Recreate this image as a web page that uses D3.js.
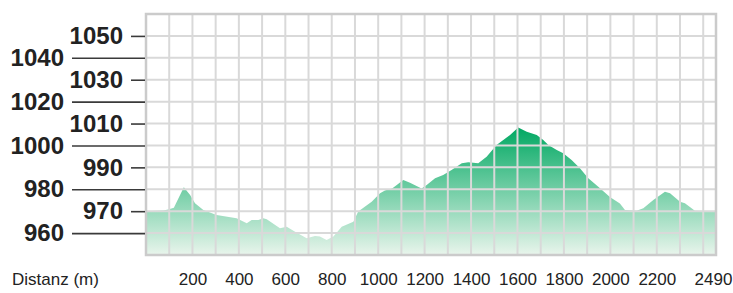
<!DOCTYPE html>
<html>
<head>
<meta charset="utf-8">
<script src="https://cdn.jsdelivr.net/npm/d3@7"></script>
<style>
  body { margin: 0; background: #fff; }
  text { font-family: "Liberation Sans", Arial, sans-serif; }
</style>
</head>
<body>
<svg id="chart"></svg>
<script>
const width = 733;
const height = 293;

// distance along the track (m) and elevation (m)
const distances = [0, 75, 95, 120, 163, 190, 211, 247, 304, 390, 434, 455, 484, 505, 520,
    577, 606, 642, 692, 728, 749, 778, 807, 843, 893, 914, 972, 1008, 1029, 1060,
    1080, 1108, 1137, 1187, 1209, 1245, 1280, 1316, 1360, 1388, 1431, 1467, 1510, 1568, 1603,
    1640, 1683, 1711, 1733, 1769, 1797, 1833, 1869, 1905, 1948, 1998, 2041, 2063, 2113,
    2142, 2185, 2235, 2257, 2300, 2321, 2350, 2364, 2455];
const elevations = [970, 970.3, 970.8, 971.6, 980.9, 977.4, 973.6, 970.5, 968.3, 966.8, 964.5, 966, 966, 966.8, 966.3,
    962.2, 962.9, 960.6, 957.6, 958.7, 958.4, 956.8, 958.4, 962.9, 965.2, 969.8, 974.3, 978.2, 979.4, 980.4,
    982, 984.2, 983, 980.4, 982, 985, 986.5, 988.8, 991.9, 992.3, 991.9, 994.9, 1000.2, 1004.8, 1008.2,
    1006.3, 1004.8, 1002.5, 1000.2, 997.9, 996.4, 993.4, 989.6, 985, 981.2, 976.5, 973.5, 970.5, 970.2,
    971.3, 975.1, 978.9, 978.2, 974.3, 973.6, 971.3, 970.2, 970];

const xTicks = [200, 400, 600, 800, 1000, 1200, 1400, 1600, 1800, 2000, 2200];
const totalLabel = "2490";
const yTicksShort = [970, 990, 1010, 1030, 1050];
const yTicksLong = [960, 980, 1000, 1020, 1040];

const plotLeft = 146, plotRight = 716, plotTop = 14, plotBottom = 255;

const x = d3.scaleLinear().domain([0, 2455]).range([plotLeft, plotRight]);
const y = d3.scaleLinear().domain([950, 1060]).range([plotBottom, plotTop]);

const svg = d3.select("#chart")
    .attr("width", width)
    .attr("height", height);

const defs = svg.append("defs");
const grad = defs.append("linearGradient")
    .attr("id", "fillGrad")
    .attr("gradientUnits", "userSpaceOnUse")
    .attr("x1", 0).attr("x2", 0)
    .attr("y1", y(d3.max(elevations)))
    .attr("y2", plotBottom);
grad.append("stop").attr("offset", 0).attr("stop-color", "#00a862");
grad.append("stop").attr("offset", 1).attr("stop-color", "#e9f5ec");

const points = distances.map((d, i) => [d, elevations[i]]);

const area = d3.area()
    .x(d => x(d[0]))
    .y0(plotBottom)
    .y1(d => y(d[1]));

svg.append("path")
    .datum(points)
    .attr("fill", "url(#fillGrad)")
    .attr("d", area);

// grid over the profile
const grid = svg.append("g")
    .attr("stroke", "#d9d9d9")
    .attr("stroke-width", 2);

grid.selectAll("line.v")
    .data(d3.range(100, 2455, 100))
    .enter()
    .append("line")
    .attr("x1", d => x(d))
    .attr("x2", d => x(d))
    .attr("y1", plotTop)
    .attr("y2", plotBottom);

grid.selectAll("line.h")
    .data(d3.range(960, 1060, 10))
    .enter()
    .append("line")
    .attr("x1", plotLeft)
    .attr("x2", plotRight)
    .attr("y1", d => y(d))
    .attr("y2", d => y(d));

svg.append("rect")
    .attr("x", plotLeft)
    .attr("y", plotTop)
    .attr("width", plotRight - plotLeft)
    .attr("height", plotBottom - plotTop)
    .attr("fill", "none")
    .attr("stroke", "#cbcbcb")
    .attr("stroke-width", 2.5);

// two staggered elevation axes
function styleAxis(g) {
    g.select(".domain").remove();
    g.selectAll(".tick line")
        .attr("stroke", "#3a3a3a")
        .attr("stroke-width", 1.6);
    g.selectAll(".tick text")
        .attr("fill", "#222")
        .attr("font-size", "24px")
        .attr("font-weight", "bold");
}

svg.append("g")
    .attr("transform", `translate(${plotLeft - 1},0)`)
    .call(d3.axisLeft(y).tickValues(yTicksLong).tickFormat(d3.format("d")).tickSize(73).tickPadding(8))
    .call(styleAxis);

svg.append("g")
    .attr("transform", `translate(${plotLeft - 1},0)`)
    .call(d3.axisLeft(y).tickValues(yTicksShort).tickFormat(d3.format("d")).tickSize(14).tickPadding(8))
    .call(styleAxis);

// distance labels
const xAxis = svg.append("g")
    .attr("transform", "translate(0,285)")
    .call(d3.axisBottom(x).tickValues(xTicks).tickFormat(d3.format("d")).tickSize(0).tickPadding(0));
xAxis.select(".domain").remove();
xAxis.selectAll(".tick text")
    .attr("y", 0)
    .attr("dy", 0)
    .attr("fill", "#222")
    .attr("font-size", "17px");

svg.append("text")
    .attr("x", x(2455) - 2.5)
    .attr("y", 285)
    .attr("text-anchor", "middle")
    .attr("fill", "#222")
    .attr("font-size", "17px")
    .text(totalLabel);

svg.append("text")
    .attr("x", 12)
    .attr("y", 285)
    .attr("fill", "#222")
    .attr("font-size", "17px")
    .text("Distanz (m)");
</script>
</body>
</html>
